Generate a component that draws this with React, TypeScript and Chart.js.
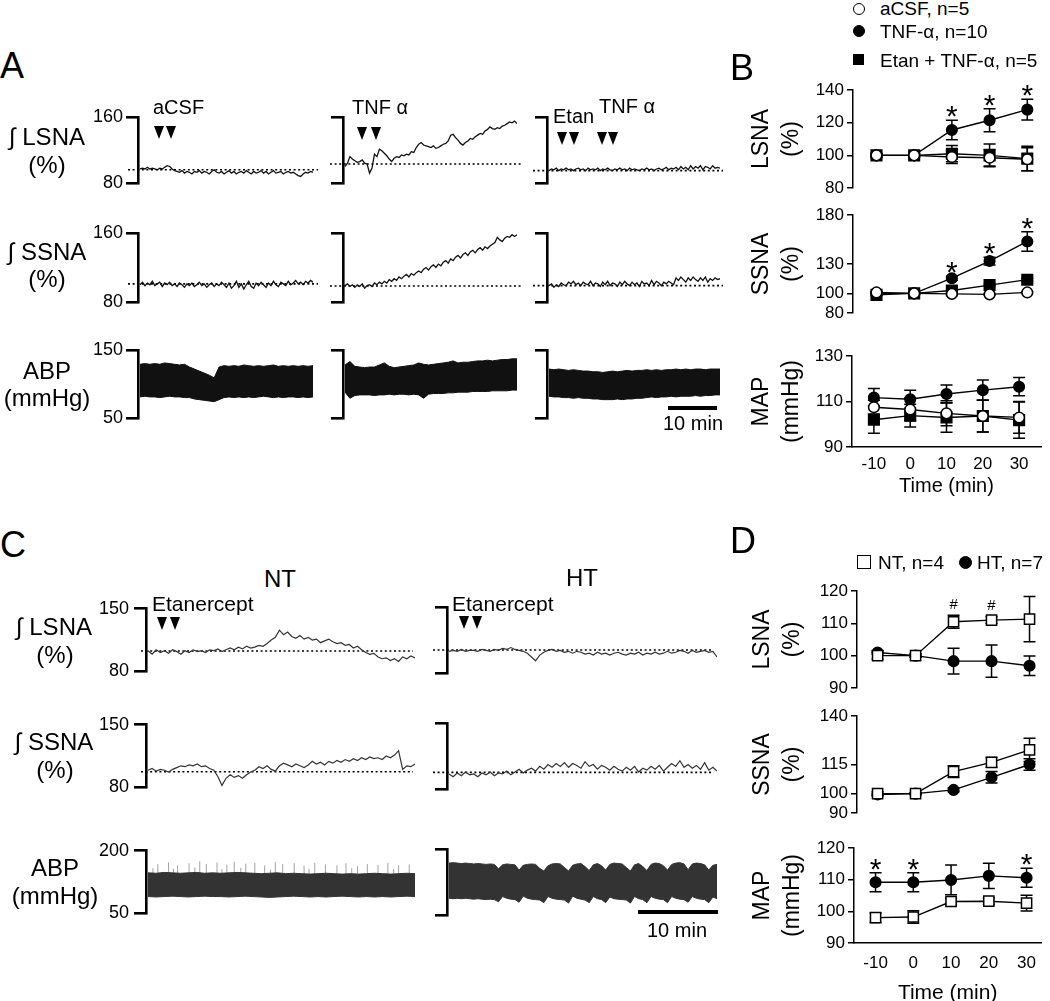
import React, { useEffect, useRef } from 'react';
import { Chart, registerables } from 'chart.js';

Chart.register(...registerables);

const FONT = "'Liberation Sans', Arial, Helvetica, sans-serif";
Chart.defaults.font.family = FONT;
Chart.defaults.color = '#000';

// ================= DATA =================
// ---- Panel A: recordings (values every 0.5 min over 35 min; ABP envelopes every 1 min) ----
const minutesA = 35;
const lsnaACSF = [97,98,97,99,97,98,97,96,98,97, 99,101,100,97,95,94,93,95,92,94, 93,91,94,93,95,92,94,93,91,94, 96,93,92,94,91,93,95,92,94,91, 93,94,92,95,93,91,94,92,93,95, 92,94,91,93,95,92,93,94,91,93, 94,92,93,91,89,88,91,93,92,94, 93];
const ssnaACSF = [100,103,99,102,100,104,99,101,103,98, 102,100,103,99,101,98,102,100,97,101, 99,102,98,100,103,99,101,97,100,102, 98,101,99,103,100,97,102,96,99,104, 97,101,95,100,104,98,96,102,99,103, 100,97,102,99,104,100,98,103,101,99, 104,100,102,105,101,103,100,104,102,105, 103];
const abpACSFSys = [129,130,129,130,129,131,130,129,128,129,125,122,119,116,113,109,125,127,126,127,126,128,127,126,127,126,127,128,126,127,126,127,126,127,126,127];
const abpACSFDia = [81,82,81,81,80,81,82,81,81,80,80,78,77,76,75,74,77,80,81,80,81,80,81,80,81,82,81,80,81,80,81,81,80,81,80,81];

const lsnaTNF = [100,104,112,109,107,105,106,108,104,103, 92,98,115,112,121,119,116,113,109,106, 110,112,111,114,113,115,114,118,117,123, 127,129,126,125,124,123,125,122,123,125, 127,128,131,138,139,135,132,128,126,129, 131,134,133,136,138,140,139,143,145,148, 146,145,147,146,149,150,152,154,153,155, 152];
const ssnaTNF = [99,101,98,100,97,100,98,101,96,99, 100,98,102,100,103,101,104,102,106,104, 107,105,109,107,110,112,109,113,111,114, 116,114,118,120,117,121,123,120,124,122, 126,128,125,130,128,132,134,131,135,137, 134,138,140,137,141,143,140,144,142,145, 147,149,155,152,150,154,156,155,158,156, 158];
const abpTNFSys = [128,133,126,125,124,125,125,128,131,126,124,125,126,127,128,131,129,128,129,130,131,132,134,131,132,132,133,134,134,135,134,135,136,136,137,137];
const abpTNFDia = [88,79,83,84,84,84,83,84,84,85,84,85,85,84,85,84,79,85,86,86,86,87,87,88,88,88,89,89,89,89,90,90,90,90,91,91];

const lsnaEtan = [95,97,96,98,95,97,96,98,96,97, 95,97,98,96,97,95,98,96,97,96, 98,95,97,96,98,96,95,97,96,98, 96,97,95,98,96,97,96,95,97,96, 98,96,97,95,97,98,96,97,99,96, 98,97,99,96,100,97,99,96,101,97, 100,98,101,96,100,99,97,101,98,99, 98];
const ssnaEtan = [99,101,97,100,98,102,100,99,103,101, 104,100,102,99,103,101,100,104,99,102, 101,98,103,100,104,99,102,101,98,103, 100,104,101,99,103,100,102,98,104,101, 102,99,105,100,104,102,99,103,101,104, 102,100,108,105,109,106,103,108,105,109, 106,104,108,105,109,103,107,105,108,106, 107];
const abpEtanSys = [122,121,122,121,120,121,120,119,119,118,118,117,118,119,118,119,120,119,120,120,121,120,121,120,121,121,122,121,122,121,122,122,121,122,122,122];
const abpEtanDia = [82,81,81,80,80,79,80,79,79,78,78,77,77,77,78,77,78,78,79,79,80,81,80,81,81,82,81,82,82,82,83,82,83,83,84,84];

const lsnaBaselineA = [96, 103, 95];
const ssnaBaselineA = [101, 98.6, 99];

// ---- Panel C: recordings (values every 0.5 min over 32.5 min) ----
const minutesC = 32.5;
const lsnaNT = [103,99,104,101,103,100,104,102,99,103, 101,104,102,103,101,104,103,105,102,104, 106,104,107,105,108,106,107,109,108,111, 115,118,126,121,124,119,117,120,116,118, 115,116,112,114,116,113,111,112,109,110, 106,108,104,101,99,100,96,94,95,92, 94,91,96,94,97,95];
const ssnaNT = [99,101,98,100,99,97,100,102,104,103, 105,104,106,103,104,101,99,92,82,90, 94,91,93,90,94,97,99,103,101,104, 100,98,104,107,105,103,106,104,102,105, 109,106,108,105,109,107,110,108,111,109, 112,110,113,111,114,112,113,111,115,113, 116,121,100,104,103,106];
const abpNTSys = [147,146,148,147,146,147,148,146,147,146,147,148,147,146,145,146,147,145,146,145,144,145,146,145,144,145,144,145,146,145,144,145,146,145];
const abpNTDia = [90,89,90,91,90,89,90,91,90,90,89,90,91,90,89,88,89,90,91,90,89,90,89,90,91,90,89,90,89,90,89,90,91,90];
const abpNTSpikeTimes = [0.6,1.2,2.5,3.1,3.6,5.0,5.7,6.3,7.1,8.4,9.0,9.6,10.5,11.3,11.9,13.0,14.2,14.9,15.5,16.4,17.8,19.0,19.6,20.3,21.6,23.0,24.1,24.8,25.5,26.7,28.0,29.2,29.9,30.5,31.8];
const abpNTSpikePeaks = [158,168,172,157,165,170,160,175,168,172,156,166,174,159,169,171,165,155,173,168,170,164,157,171,167,165,170,158,163,168,166,171,156,165,167];

const lsnaHT = [103,104,103,105,103,104,104,103,105,104, 103,105,104,106,105,107,105,104,103,101, 97,93,99,102,104,105,103,104,102,103, 101,103,102,100,101,99,102,100,101,99, 101,102,100,99,101,100,102,99,101,100, 102,100,101,103,101,102,104,103,101,104, 102,103,104,102,103,97];
const ssnaHT = [96,93,97,94,98,95,96,93,97,95, 98,94,97,96,99,95,98,101,97,100, 102,99,104,101,106,103,107,104,108,103, 107,105,102,109,104,106,101,105,103,100, 104,101,99,103,100,104,98,102,100,104, 101,105,99,103,107,104,110,103,106,102, 105,101,108,100,103,99];
const abpHTSys = [168,169,168,167,168,167,166,167,166,165,166,165,155,164,166,165,164,152,163,165,166,165,156,150,162,166,167,166,158,150,163,166,167,160,151,164,167,162,152,165,168,167,166,158,150,164,167,160,151,165,168,167,162,152,165,168,169,166,153,166,168,167,164,152,163,165];
const abpHTDia = [88,87,88,87,88,87,86,87,86,85,86,85,80,92,88,86,85,79,93,88,86,85,84,78,92,88,86,85,84,77,93,88,86,84,78,92,87,85,78,91,87,86,85,84,77,92,87,85,78,92,88,86,85,78,92,88,86,85,79,92,88,86,85,78,91,87];

const lsnaBaselineC = [102.6, 104.4];
const ssnaBaselineC = [97.3, 97.6];

// ---- Panels B and D: group means ----
const timePoints = [-10, 0, 10, 20, 30];

const bLsnaACSF = [100, 100, 99, 98.5, 97.6];
const bLsnaACSFErr = [1.5, 1, 4, 5, 7];
const bLsnaTNF = [100, 100, 115.5, 121.5, 128];
const bLsnaTNFErr = [1, 1, 6, 7, 6.3];
const bLsnaEtan = [100, 100, 101, 100, 98];
const bLsnaEtanErr = [1, 1, 5, 7, 7.5];

const bSsnaACSF = [101, 100, 99.5, 99, 101];
const bSsnaACSFErr = [1, 1, 1, 1, 1];
const bSsnaTNF = [100, 100, 115.5, 133, 153];
const bSsnaTNFErr = [1, 1, 2, 4, 10];
const bSsnaEtan = [98.5, 100, 103, 108.5, 114];
const bSsnaEtanErr = [1, 1, 1, 1, 1.5];

const bMapACSF = [107.5, 106.5, 104.8, 103.6, 103];
const bMapACSFErr = [3, 5, 5.5, 7, 7];
const bMapTNF = [111.7, 111, 113.3, 115, 116.5];
const bMapTNFErr = [4, 4, 4, 4.5, 4];
const bMapEtan = [102, 103.8, 103, 103.6, 101.8];
const bMapEtanErr = [6, 5, 6.5, 7, 8];

const bLsnaStarTimes = [10, 20, 30];
const bSsnaStarTimes = [10, 20, 30];

const dLsnaNT = [100, 100, 110.5, 111, 111.3];
const dLsnaNTErr = [1, 0.5, 2, 1, 7];
const dLsnaHT = [101, 100, 98.3, 98.3, 96.9];
const dLsnaHTErr = [0.5, 0.5, 4, 5, 3];

const dSsnaNT = [100, 100, 111.3, 116.1, 122.5];
const dSsnaNTErr = [1, 0.5, 3, 2.5, 6];
const dSsnaHT = [99.5, 100, 101.9, 108.4, 115];
const dSsnaHTErr = [0.5, 0.5, 1, 3, 3];

const dMapNT = [98, 98.2, 103.1, 103.2, 102.6];
const dMapNTErr = [1.5, 2, 1, 1, 2.5];
const dMapHT = [109.2, 109.2, 109.9, 111.2, 110.6];
const dMapHTErr = [3, 3, 4.7, 4, 3];

const dLsnaHashTimes = [10, 20];
const dMapStarTimes = [-10, 0, 30];

// ================= TRACE CHARTS =================
const AXW = 60, TPT = 14, TPB = 14, TPR = 12;

type TraceSpec = {
  left: number; right: number; top: number; bottom: number;
  min: number; max: number; labels: boolean; labelPad: number; minutes: number;
  values?: number[]; sys?: number[]; dia?: number[];
  spikeTimes?: number[]; spikePeaks?: number[]; spikeBase?: number;
  baseline?: number; dotFrom?: number; dotTo?: number; color: string; width: number;
};

const pts = (arr: number[], minutes: number) => arr.map((v, i) => ({ x: (i * minutes) / (arr.length - 1), y: v }));

function traceBox(s: TraceSpec) {
  return { left: s.left - AXW, top: s.top - TPT, width: AXW + (s.right - s.left) + TPR, height: s.bottom - s.top + TPT + TPB };
}

function makeTrace(canvas: HTMLCanvasElement, s: TraceSpec) {
  const ppm = (s.right - s.left - 2) / s.minutes;
  const xmin = -2 / ppm;
  const pxToMin = (px: number) => xmin + (px - s.left) / ppm;
  const ds: any[] = [];
  if (s.values) ds.push({ data: pts(s.values, s.minutes), borderColor: s.color, borderWidth: s.width, pointRadius: 0, tension: 0 });
  if (s.sys && s.dia) {
    ds.push({ data: pts(s.sys, s.minutes), borderColor: s.color, backgroundColor: s.color, borderWidth: 1, pointRadius: 0, fill: '+1' });
    ds.push({ data: pts(s.dia, s.minutes), borderColor: s.color, borderWidth: 1, pointRadius: 0, fill: false });
  }
  if (s.spikeTimes && s.spikePeaks) {
    const d: any[] = [];
    s.spikeTimes.forEach((t, i) => { d.push({ x: t, y: s.spikeBase }, { x: t, y: s.spikePeaks![i] }, { x: t, y: null }); });
    ds.push({ data: d, borderColor: '#7a7a7a', borderWidth: 0.7, pointRadius: 0, spanGaps: false });
  }
  if (s.baseline != null) {
    ds.push({
      data: [{ x: pxToMin(s.dotFrom!), y: s.baseline }, { x: pxToMin(s.dotTo!), y: s.baseline }],
      borderColor: '#000', borderWidth: 1.6, borderDash: [2, 2.6], pointRadius: 0, clip: false,
    });
  }
  return new Chart(canvas, {
    type: 'line',
    data: { datasets: ds },
    options: {
      responsive: false, animation: false, events: [],
      layout: { padding: { left: 0, top: TPT, right: TPR, bottom: TPB } },
      plugins: { legend: { display: false }, tooltip: { enabled: false } },
      scales: {
        x: { type: 'linear', display: false, min: xmin, max: s.minutes },
        y: {
          min: s.min, max: s.max,
          afterFit: (sc: any) => { sc.width = AXW; },
          afterBuildTicks: (sc: any) => { sc.ticks = [{ value: s.min }, { value: s.max }]; },
          ticks: { display: s.labels, color: '#000', font: { family: FONT, size: 18 }, padding: s.labelPad },
          grid: { drawOnChartArea: false, drawTicks: true, tickLength: 12, lineWidth: 2.6, color: '#000' },
          border: { display: true, width: 2.6, color: '#000' },
        },
      },
    },
  } as any);
}

const colA = [
  { left: 138, right: 313, dotFrom: 128, dotTo: 318, labels: true },
  { left: 343, right: 517, dotFrom: 330, dotTo: 521, labels: false },
  { left: 547, right: 720, dotFrom: 533, dotTo: 723, labels: false },
];
const colC = [
  { left: 146, right: 415, dotFrom: 141, dotTo: 413, labels: true },
  { left: 447, right: 717, dotFrom: 433, dotTo: 712, labels: false },
];
const lsnaA = [lsnaACSF, lsnaTNF, lsnaEtan];
const ssnaA = [ssnaACSF, ssnaTNF, ssnaEtan];
const sysA = [abpACSFSys, abpTNFSys, abpEtanSys];
const diaA = [abpACSFDia, abpTNFDia, abpEtanDia];

const TRACES: TraceSpec[] = [];
colA.forEach((c, i) => {
  TRACES.push({ ...c, top: 117, bottom: 183, min: 80, max: 160, labelPad: 3, minutes: minutesA, values: lsnaA[i], baseline: lsnaBaselineA[i], color: '#111', width: 1.3 });
  TRACES.push({ ...c, top: 233, bottom: 302, min: 80, max: 160, labelPad: 3, minutes: minutesA, values: ssnaA[i], baseline: ssnaBaselineA[i], color: '#111', width: 1.3 });
  TRACES.push({ ...c, top: 350, bottom: 418, min: 50, max: 150, labelPad: 3, minutes: minutesA, sys: sysA[i], dia: diaA[i], color: '#111', width: 1 });
});
const lsnaC = [lsnaNT, lsnaHT];
const ssnaC = [ssnaNT, ssnaHT];
colC.forEach((c, i) => {
  TRACES.push({ ...c, top: 607, bottom: 673, min: 80, max: 150, labelPad: 5, minutes: minutesC, values: lsnaC[i], baseline: lsnaBaselineC[i], color: '#333', width: 1.2 });
  TRACES.push({ ...c, top: 723, bottom: 789, min: 80, max: 150, labelPad: 5, minutes: minutesC, values: ssnaC[i], baseline: ssnaBaselineC[i], color: '#333', width: 1.2 });
});
TRACES.push({ ...colC[0], top: 849, bottom: 915, min: 50, max: 200, labelPad: 5, minutes: minutesC, sys: abpNTSys, dia: abpNTDia, spikeTimes: abpNTSpikeTimes, spikePeaks: abpNTSpikePeaks, spikeBase: 140, color: '#333', width: 1 });
TRACES.push({ ...colC[1], top: 849, bottom: 915, min: 50, max: 200, labelPad: 5, minutes: minutesC, sys: abpHTSys, dia: abpHTDia, color: '#333', width: 1 });

// ================= GROUP CHARTS =================
const PCL = 735, PCR = 1050, PPT = 36, PPB = 14;

type PSeries = { values: number[]; errors: number[]; style: string; filled: boolean; radius: number };
type Mark = { series: number; times: number[]; text: string; size: number; bold: boolean; gap: number; k: number };
type PointSpec = {
  axisX: number; right: number; top: number; bottom: number;
  xmin: number; xmax: number; min: number; max: number; yticks: number[];
  title: string[]; titleX: number;
  xAxis?: { height: number; tickPad: number; titlePad: number; titleSize: number };
  series: PSeries[]; marks: Mark[];
};

function pointBox(s: PointSpec) {
  return { left: PCL, top: s.top - PPT, width: PCR - PCL, height: s.bottom - s.top + PPT + (s.xAxis ? s.xAxis.height : PPB) };
}

function makePoint(canvas: HTMLCanvasElement, s: PointSpec) {
  const titleSize = 23, titleLH = 1.3;
  const errorBars = {
    id: 'errorBars',
    beforeDatasetsDraw(chart: any) {
      const ctx = chart.ctx, xs = chart.scales.x, ys = chart.scales.y;
      ctx.save();
      ctx.strokeStyle = '#000';
      ctx.lineWidth = 1.5;
      chart.data.datasets.forEach((d: any) => {
        d.data.forEach((p: any, i: number) => {
          const e = d.errors[i];
          const px = xs.getPixelForValue(p.x);
          const t = ys.getPixelForValue(p.y + e), b = ys.getPixelForValue(p.y - e);
          ctx.beginPath();
          ctx.moveTo(px, t); ctx.lineTo(px, b);
          ctx.moveTo(px - 6, t); ctx.lineTo(px + 6, t);
          ctx.moveTo(px - 6, b); ctx.lineTo(px + 6, b);
          ctx.stroke();
        });
      });
      ctx.restore();
    },
  };
  const marks = {
    id: 'marks',
    afterDatasetsDraw(chart: any) {
      const ctx = chart.ctx, xs = chart.scales.x, ys = chart.scales.y;
      ctx.save();
      ctx.fillStyle = '#000';
      ctx.textAlign = 'center';
      ctx.textBaseline = 'alphabetic';
      s.marks.forEach((m) => {
        const se = s.series[m.series];
        ctx.font = `${m.bold ? 'bold ' : ''}${m.size}px ${FONT}`;
        m.times.forEach((t) => {
          const i = timePoints.indexOf(t);
          const px = xs.getPixelForValue(t);
          const cy = ys.getPixelForValue(se.values[i] + se.errors[i]) - m.gap;
          ctx.fillText(m.text, px, cy + m.k * m.size);
        });
      });
      ctx.restore();
    },
  };
  const datasets = s.series.map((se) => ({
    data: timePoints.map((t, i) => ({ x: t, y: se.values[i] })),
    errors: se.errors,
    borderColor: '#000', borderWidth: 1.4, tension: 0,
    pointStyle: se.style, pointRadius: se.radius, pointBorderWidth: 1.5,
    pointBackgroundColor: se.filled ? '#000' : '#fff', pointBorderColor: '#000',
    clip: false,
  }));
  const xa = s.xAxis;
  return new Chart(canvas, {
    type: 'line',
    data: { datasets },
    options: {
      responsive: false, animation: false, events: [],
      layout: { padding: { left: 0, top: PPT, right: PCR - s.right, bottom: xa ? 0 : PPB } },
      plugins: { legend: { display: false }, tooltip: { enabled: false } },
      scales: {
        x: {
          type: 'linear', display: !!xa, min: s.xmin, max: s.xmax,
          afterFit: (sc: any) => { if (xa) sc.height = xa.height; },
          afterBuildTicks: (sc: any) => { sc.ticks = timePoints.map((v) => ({ value: v })); },
          ticks: { color: '#000', font: { family: FONT, size: 17 }, padding: xa ? xa.tickPad : 0, maxRotation: 0, autoSkip: false },
          grid: { display: false, drawTicks: false, tickLength: 0 },
          border: { display: true, width: 1.5, color: '#000' },
          title: { display: !!xa, text: 'Time (min)', color: '#000', font: { family: FONT, size: xa ? xa.titleSize : 20, lineHeight: 1.2 }, padding: { top: 0, bottom: xa ? xa.titlePad : 0 } },
        },
        y: {
          min: s.min, max: s.max,
          afterFit: (sc: any) => { sc.width = s.axisX - PCL; },
          afterBuildTicks: (sc: any) => { sc.ticks = s.yticks.map((v) => ({ value: v })); },
          ticks: { color: '#000', font: { family: FONT, size: 17 }, padding: 3 },
          grid: { drawOnChartArea: false, drawTicks: true, tickLength: 6, lineWidth: 1.5, color: '#000' },
          border: { display: true, width: 1.5, color: '#000' },
          title: {
            display: true, text: s.title, color: '#000',
            font: { family: FONT, size: titleSize, lineHeight: titleLH },
            padding: { top: s.titleX - PCL - (titleSize * titleLH) / 2, bottom: 0 },
          },
        },
      },
    },
    plugins: [errorBars, marks],
  } as any);
}

const openCircle = (values: number[], errors: number[]): PSeries => ({ values, errors, style: 'circle', filled: false, radius: 5.3 });
const fullCircle = (values: number[], errors: number[]): PSeries => ({ values, errors, style: 'circle', filled: true, radius: 5.3 });
const fullSquare = (values: number[], errors: number[]): PSeries => ({ values, errors, style: 'rect', filled: true, radius: 7.5 });
const openSquare = (values: number[], errors: number[]): PSeries => ({ values, errors, style: 'rect', filled: false, radius: 7.2 });

const STAR = { text: '*', size: 30, bold: false, gap: 12, k: 0.6 };

const POINTS: PointSpec[] = [
  {
    axisX: 853, right: 1045, top: 90, bottom: 188, xmin: -16.23, xmax: 33.64, min: 80, max: 140, yticks: [80, 100, 120, 140],
    title: ['LSNA', '(%)'], titleX: 762,
    series: [openCircle(bLsnaACSF, bLsnaACSFErr), fullSquare(bLsnaEtan, bLsnaEtanErr), fullCircle(bLsnaTNF, bLsnaTNFErr)],
    marks: [{ series: 2, times: bLsnaStarTimes, ...STAR }],
  },
  {
    axisX: 853, right: 1045, top: 215, bottom: 313, xmin: -16.23, xmax: 33.64, min: 80, max: 180, yticks: [80, 100, 130, 180],
    title: ['SSNA', '(%)'], titleX: 762,
    series: [openCircle(bSsnaACSF, bSsnaACSFErr), fullSquare(bSsnaEtan, bSsnaEtanErr), fullCircle(bSsnaTNF, bSsnaTNFErr)],
    marks: [{ series: 2, times: bSsnaStarTimes, ...STAR }],
  },
  {
    axisX: 852, right: 1042, top: 356, bottom: 447, xmin: -16.03, xmax: 36.03, min: 90, max: 130, yticks: [90, 110, 130],
    title: ['MAP', '(mmHg)'], titleX: 762,
    xAxis: { height: 52, tickPad: 7, titlePad: 1, titleSize: 20 },
    series: [openCircle(bMapACSF, bMapACSFErr), fullSquare(bMapEtan, bMapEtanErr), fullCircle(bMapTNF, bMapTNFErr)],
    marks: [],
  },
  {
    axisX: 857, right: 1045, top: 591, bottom: 688, xmin: -15.42, xmax: 33.1, min: 90, max: 120, yticks: [90, 100, 110, 120],
    title: ['LSNA', '(%)'], titleX: 763,
    series: [openSquare(dLsnaNT, dLsnaNTErr), fullCircle(dLsnaHT, dLsnaHTErr)],
    marks: [{ series: 0, times: dLsnaHashTimes, text: '#', size: 15, bold: false, gap: 12, k: 0.36 }],
  },
  {
    axisX: 857, right: 1045, top: 716, bottom: 813, xmin: -15.42, xmax: 33.1, min: 90, max: 140, yticks: [90, 100, 115, 140],
    title: ['SSNA', '(%)'], titleX: 763,
    series: [openSquare(dSsnaNT, dSsnaNTErr), fullCircle(dSsnaHT, dSsnaHTErr)],
    marks: [],
  },
  {
    axisX: 854, right: 1045, top: 848, bottom: 943, xmin: -15.71, xmax: 33.9, min: 90, max: 120, yticks: [90, 100, 110, 120],
    title: ['MAP', '(mmHg)'], titleX: 763,
    xAxis: { height: 64, tickPad: 10, titlePad: 1, titleSize: 21 },
    series: [openSquare(dMapNT, dMapNTErr), fullCircle(dMapHT, dMapHTErr)],
    marks: [{ series: 1, times: dMapStarTimes, ...STAR }],
  },
];

// ================= OVERLAY HELPERS =================
function T({ x, y, size, children, center }: any) {
  return (
    <div
      style={{
        position: 'absolute', left: x, top: y,
        transform: center ? 'translate(-50%,-50%)' : 'translateY(-50%)',
        fontFamily: FONT, fontSize: size, lineHeight: 1, whiteSpace: 'nowrap', color: '#000',
      }}
    >
      {children}
    </div>
  );
}

function Tri({ cx, top }: any) {
  return (
    <div
      style={{
        position: 'absolute', left: cx - 5.5, top, width: 0, height: 0,
        borderLeft: '5.5px solid transparent', borderRight: '5.5px solid transparent', borderTop: '13px solid #000',
      }}
    />
  );
}

function Sym({ cx, cy, size, round, filled }: any) {
  return (
    <div
      style={{
        position: 'absolute', left: cx - size / 2, top: cy - size / 2, width: size, height: size,
        boxSizing: 'border-box', border: '1.5px solid #000', borderRadius: round ? '50%' : 0,
        background: filled ? '#000' : '#fff',
      }}
    />
  );
}

const arrowHeads = [
  { cx: 159.5, top: 126 }, { cx: 171, top: 126 },
  { cx: 362.5, top: 127 }, { cx: 376, top: 127 },
  { cx: 562.5, top: 132 }, { cx: 574, top: 132 }, { cx: 602, top: 132 }, { cx: 613.5, top: 132 },
  { cx: 162, top: 617 }, { cx: 175, top: 617 },
  { cx: 464.5, top: 616 }, { cx: 477, top: 616 },
];

export default function App() {
  const refs = useRef<(HTMLCanvasElement | null)[]>([]);

  useEffect(() => {
    const charts: Chart[] = [];
    TRACES.forEach((s, i) => {
      const c = refs.current[i];
      if (c) charts.push(makeTrace(c, s));
    });
    POINTS.forEach((s, j) => {
      const c = refs.current[TRACES.length + j];
      if (c) charts.push(makePoint(c, s));
    });
    return () => charts.forEach((c) => c.destroy());
  }, []);

  const boxes = [...TRACES.map(traceBox), ...POINTS.map(pointBox)];

  return (
    <div style={{ position: 'absolute', left: 0, top: 0, width: 1050, height: 1001, overflow: 'hidden', background: '#fff' }}>
      {boxes.map((b, i) => (
        <canvas
          key={i}
          ref={(el) => { refs.current[i] = el; }}
          width={b.width}
          height={b.height}
          style={{ position: 'absolute', left: b.left, top: b.top, width: b.width, height: b.height }}
        />
      ))}

      {/* Panel A */}
      <T x={0} y={66} size={36}>A</T>
      <T x={47} y={137} size={24} center>∫ LSNA</T>
      <T x={47} y={165} size={24} center>(%)</T>
      <T x={47} y={252} size={24} center>∫ SSNA</T>
      <T x={47} y={279} size={24} center>(%)</T>
      <T x={47} y={371} size={24} center>ABP</T>
      <T x={47} y={398} size={24} center>(mmHg)</T>
      <T x={153} y={107} size={20}>aCSF</T>
      <T x={352} y={107} size={20}>TNF α</T>
      <T x={553} y={116} size={20}>Etan</T>
      <T x={599} y={106} size={20}>TNF α</T>
      <div style={{ position: 'absolute', left: 668, top: 406, width: 49, height: 4, background: '#000' }} />
      <T x={693} y={423} size={20} center>10 min</T>

      {/* Panel C */}
      <T x={0} y={545} size={36}>C</T>
      <T x={280} y={579} size={24} center>NT</T>
      <T x={582} y={578} size={24} center>HT</T>
      <T x={152} y={603} size={21}>Etanercept</T>
      <T x={452} y={603} size={21}>Etanercept</T>
      <T x={54} y={627} size={24} center>∫ LSNA</T>
      <T x={55} y={655} size={24} center>(%)</T>
      <T x={54} y={742} size={24} center>∫ SSNA</T>
      <T x={55} y={770} size={24} center>(%)</T>
      <T x={55} y={868} size={24} center>ABP</T>
      <T x={55} y={896} size={24} center>(mmHg)</T>
      <div style={{ position: 'absolute', left: 638, top: 910, width: 80, height: 4, background: '#000' }} />
      <T x={677} y={930} size={20} center>10 min</T>

      {arrowHeads.map((a, i) => <Tri key={i} cx={a.cx} top={a.top} />)}

      {/* Panel B */}
      <T x={730} y={68} size={36}>B</T>
      <Sym cx={858.5} cy={8.5} size={12} round filled={false} />
      <Sym cx={858.5} cy={31} size={12} round filled />
      <Sym cx={858.5} cy={59.5} size={11} filled />
      <T x={880} y={8} size={19}>aCSF, n=5</T>
      <T x={880} y={31} size={19}>TNF-α, n=10</T>
      <T x={880} y={60} size={19}>Etan + TNF-α, n=5</T>

      {/* Panel D */}
      <T x={730} y={541} size={36}>D</T>
      <Sym cx={864} cy={562} size={14} filled={false} />
      <T x={878} y={562} size={19}>NT, n=4</T>
      <Sym cx={965} cy={562} size={13} round filled />
      <T x={977} y={562} size={19}>HT, n=7</T>
    </div>
  );
}
